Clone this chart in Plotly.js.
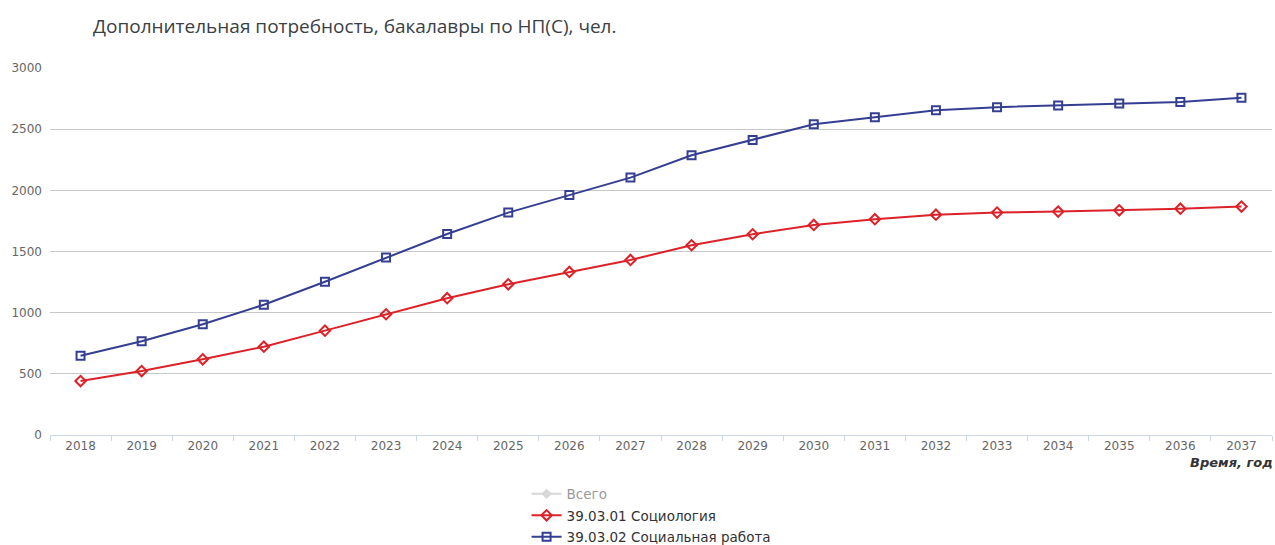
<!DOCTYPE html>
<html>
<head>
<meta charset="utf-8">
<script src="https://cdn.plot.ly/plotly-3.0.1.min.js"></script>
<style>html,body{margin:0;padding:0;background:#fff;}#chart{width:1275px;height:545px;}</style>
</head>
<body>
<div id="chart"></div>
<script>
const years = ['2018','2019','2020','2021','2022','2023','2024','2025','2026','2027','2028','2029','2030','2031','2032','2033','2034','2035','2036','2037'];
const sociology = [441, 523, 619, 722, 853, 987, 1118, 1232, 1333, 1431, 1551, 1641, 1717, 1764, 1801, 1818, 1826, 1837, 1850, 1867];
const socialWork = [648, 766, 905, 1065, 1253, 1450, 1643, 1818, 1962, 2104, 2287, 2412, 2540, 2598, 2655, 2680, 2693, 2709, 2723, 2756];
// "Всего" is hidden in the reference (legend only), its values are not shown
const total = [null, null, null, null, null, null, null, null, null, null, null, null, null, null, null, null, null, null, null, null];
const seriesNames = ['Всего', '39.03.01 Социология', '39.03.02 Социальная работа'];
const yTicks = [0, 500, 1000, 1500, 2000, 2500, 3000];

const font = 'DejaVu Sans, sans-serif';

const traces = [
  {
    x: years, y: total, name: seriesNames[0], type: 'scatter', mode: 'lines+markers',
    visible: 'legendonly', legendgroup: 'g0',
    line: {color: '#b0b0b0', width: 2},
    marker: {symbol: 'diamond', size: 8, color: '#b0b0b0'}
  },
  {
    x: years, y: sociology, name: seriesNames[1], type: 'scatter', mode: 'lines+markers',
    legendgroup: 'g1',
    line: {color: '#dc2128', width: 2},
    marker: {symbol: 'diamond-open', size: 8, color: '#dc2128', line: {width: 2, color: '#dc2128'}}
  },
  {
    x: years, y: socialWork, name: seriesNames[2], type: 'scatter', mode: 'lines+markers',
    legendgroup: 'g2',
    line: {color: '#353f92', width: 2},
    marker: {symbol: 'square-open', size: 8, color: '#353f92', line: {width: 2, color: '#353f92'}}
  }
];

const layout = {
  width: 1275, height: 545,
  margin: {l: 50, r: 3, t: 68, b: 110, autoexpand: false},
  paper_bgcolor: '#ffffff', plot_bgcolor: '#ffffff',
  font: {family: font, size: 12, color: '#666666'},
  title: {
    text: 'Дополнительная потребность, бакалавры по НП(С), чел.',
    x: 93/1275, xanchor: 'left', xref: 'container',
    y: 1 - 26/545, yanchor: 'middle', yref: 'container',
    font: {family: 'Open Sans, sans-serif', size: 19, color: '#3b4045'}
  },
  xaxis: {
    type: 'category',
    range: [-0.5, 19.5],
    tickson: 'boundaries',
    ticks: 'outside', ticklen: 5, tickcolor: '#ccd6eb', tickwidth: 1,
    showline: true, linecolor: '#ccd6eb', linewidth: 1,
    showgrid: false, zeroline: false,
    tickfont: {family: font, size: 12, color: '#666666'},
    fixedrange: true
  },
  yaxis: {
    range: [0, 3000],
    tickvals: yTicks,
    ticktext: yTicks.map(String),
    showgrid: true, gridcolor: '#c8c8c8', gridwidth: 1,
    zeroline: false, showline: false,
    ticks: '', ticklabelstandoff: 7,
    tickfont: {family: font, size: 12, color: '#666666'},
    fixedrange: true
  },
  showlegend: true,
  legend: {
    orientation: 'v',
    x: 0.39, xanchor: 'left',
    y: -0.1185, yanchor: 'top',
    font: {family: font, size: 13.5, color: '#333333'},
    tracegroupgap: 1,
    itemwidth: 30,
    bgcolor: 'rgba(0,0,0,0)'
  },
  annotations: [{
    text: '<b><i>Время, год</i></b>',
    xref: 'paper', yref: 'paper',
    x: 1, xanchor: 'right', xshift: 3,
    y: -0.076, yanchor: 'middle',
    showarrow: false,
    font: {family: font, size: 13, color: '#333333'}
  }]
};

Plotly.newPlot('chart', traces, layout, {displayModeBar: false});
</script>
</body>
</html>
